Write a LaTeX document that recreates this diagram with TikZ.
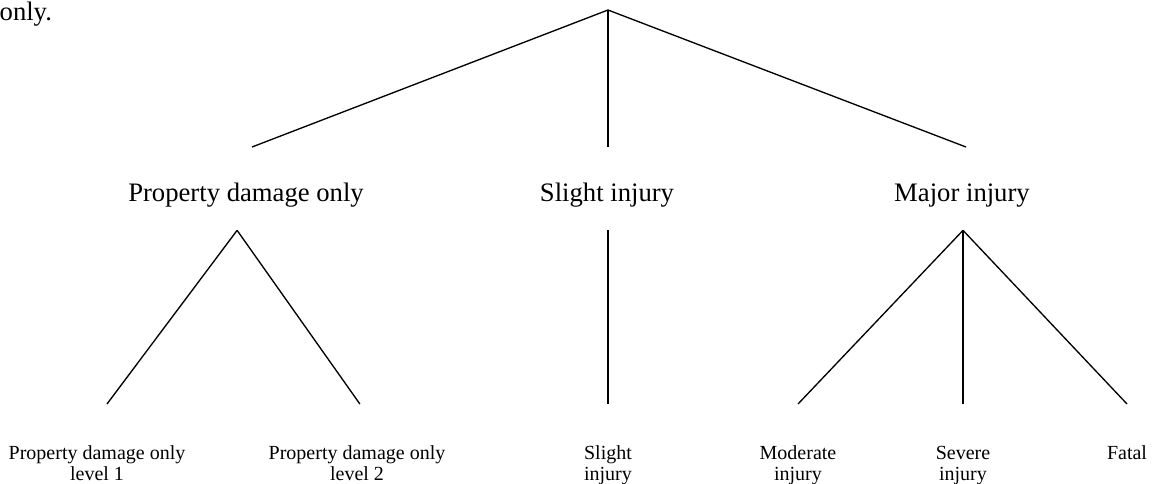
\documentclass[tikz,border=0pt]{standalone}
\usepackage{fontspec}
\setmainfont{Liberation Serif}
\newcommand{\lstrut}{\rule{0pt}{24.75pt}}
\tikzset{
  cat/.style={anchor=north, inner sep=0pt, font=\fontsize{12}{14}\selectfont,
    execute at begin node={\rule[-12.6pt]{0pt}{36.9pt}}},
  leaf/.style={anchor=north, inner sep=0pt, align=center, font=\fontsize{9}{9.45}\selectfont},
}
\begin{document}
\begin{tikzpicture}[x=0.45pt, y=-0.45pt, line width=0.6pt]
    \useasboundingbox (0,0) rectangle (1163,483);
    \node[anchor=base west, inner sep=0pt, font=\fontsize{12}{14}\selectfont] (prev) at (-1,20) {only.};
    \coordinate (top) at (608,10);
    \node[cat] (pdo) at (246,147) {Property damage only};
    \node[cat] (si) at (607,147) {Slight injury};
    \node[cat] (mi) at (962,147) {Major injury};
    \node[leaf] (pdo1) at (97,404) {\lstrut Property damage only\\level 1};
    \node[leaf] (pdo2) at (357,404) {\lstrut Property damage only\\level 2};
    \node[leaf] (si1) at (608,404) {\lstrut Slight\\injury};
    \node[leaf] (mod) at (798,404) {\lstrut Moderate\\injury};
    \node[leaf] (sev) at (963,404) {\lstrut Severe\\injury};
    \node[leaf] (fat) at (1127,404) {\lstrut Fatal};
    \draw (top) -- ([xshift=2.7pt]pdo.north);
    \draw (top) -- ([xshift=0.45pt]si.north);
    \draw (top) -- ([xshift=1.8pt]mi.north);
    \draw ([xshift=-4pt]pdo.south) -- ([xshift=4.5pt]pdo1.north);
    \draw ([xshift=-4pt]pdo.south) -- ([xshift=1.3pt]pdo2.north);
    \draw ([xshift=0.45pt]si.south) -- (si1.north);
    \draw ([xshift=0.45pt]mi.south) -- (mod.north);
    \draw ([xshift=0.45pt]mi.south) -- (sev.north);
    \draw ([xshift=0.45pt]mi.south) -- (fat.north);
\end{tikzpicture}
\end{document}
